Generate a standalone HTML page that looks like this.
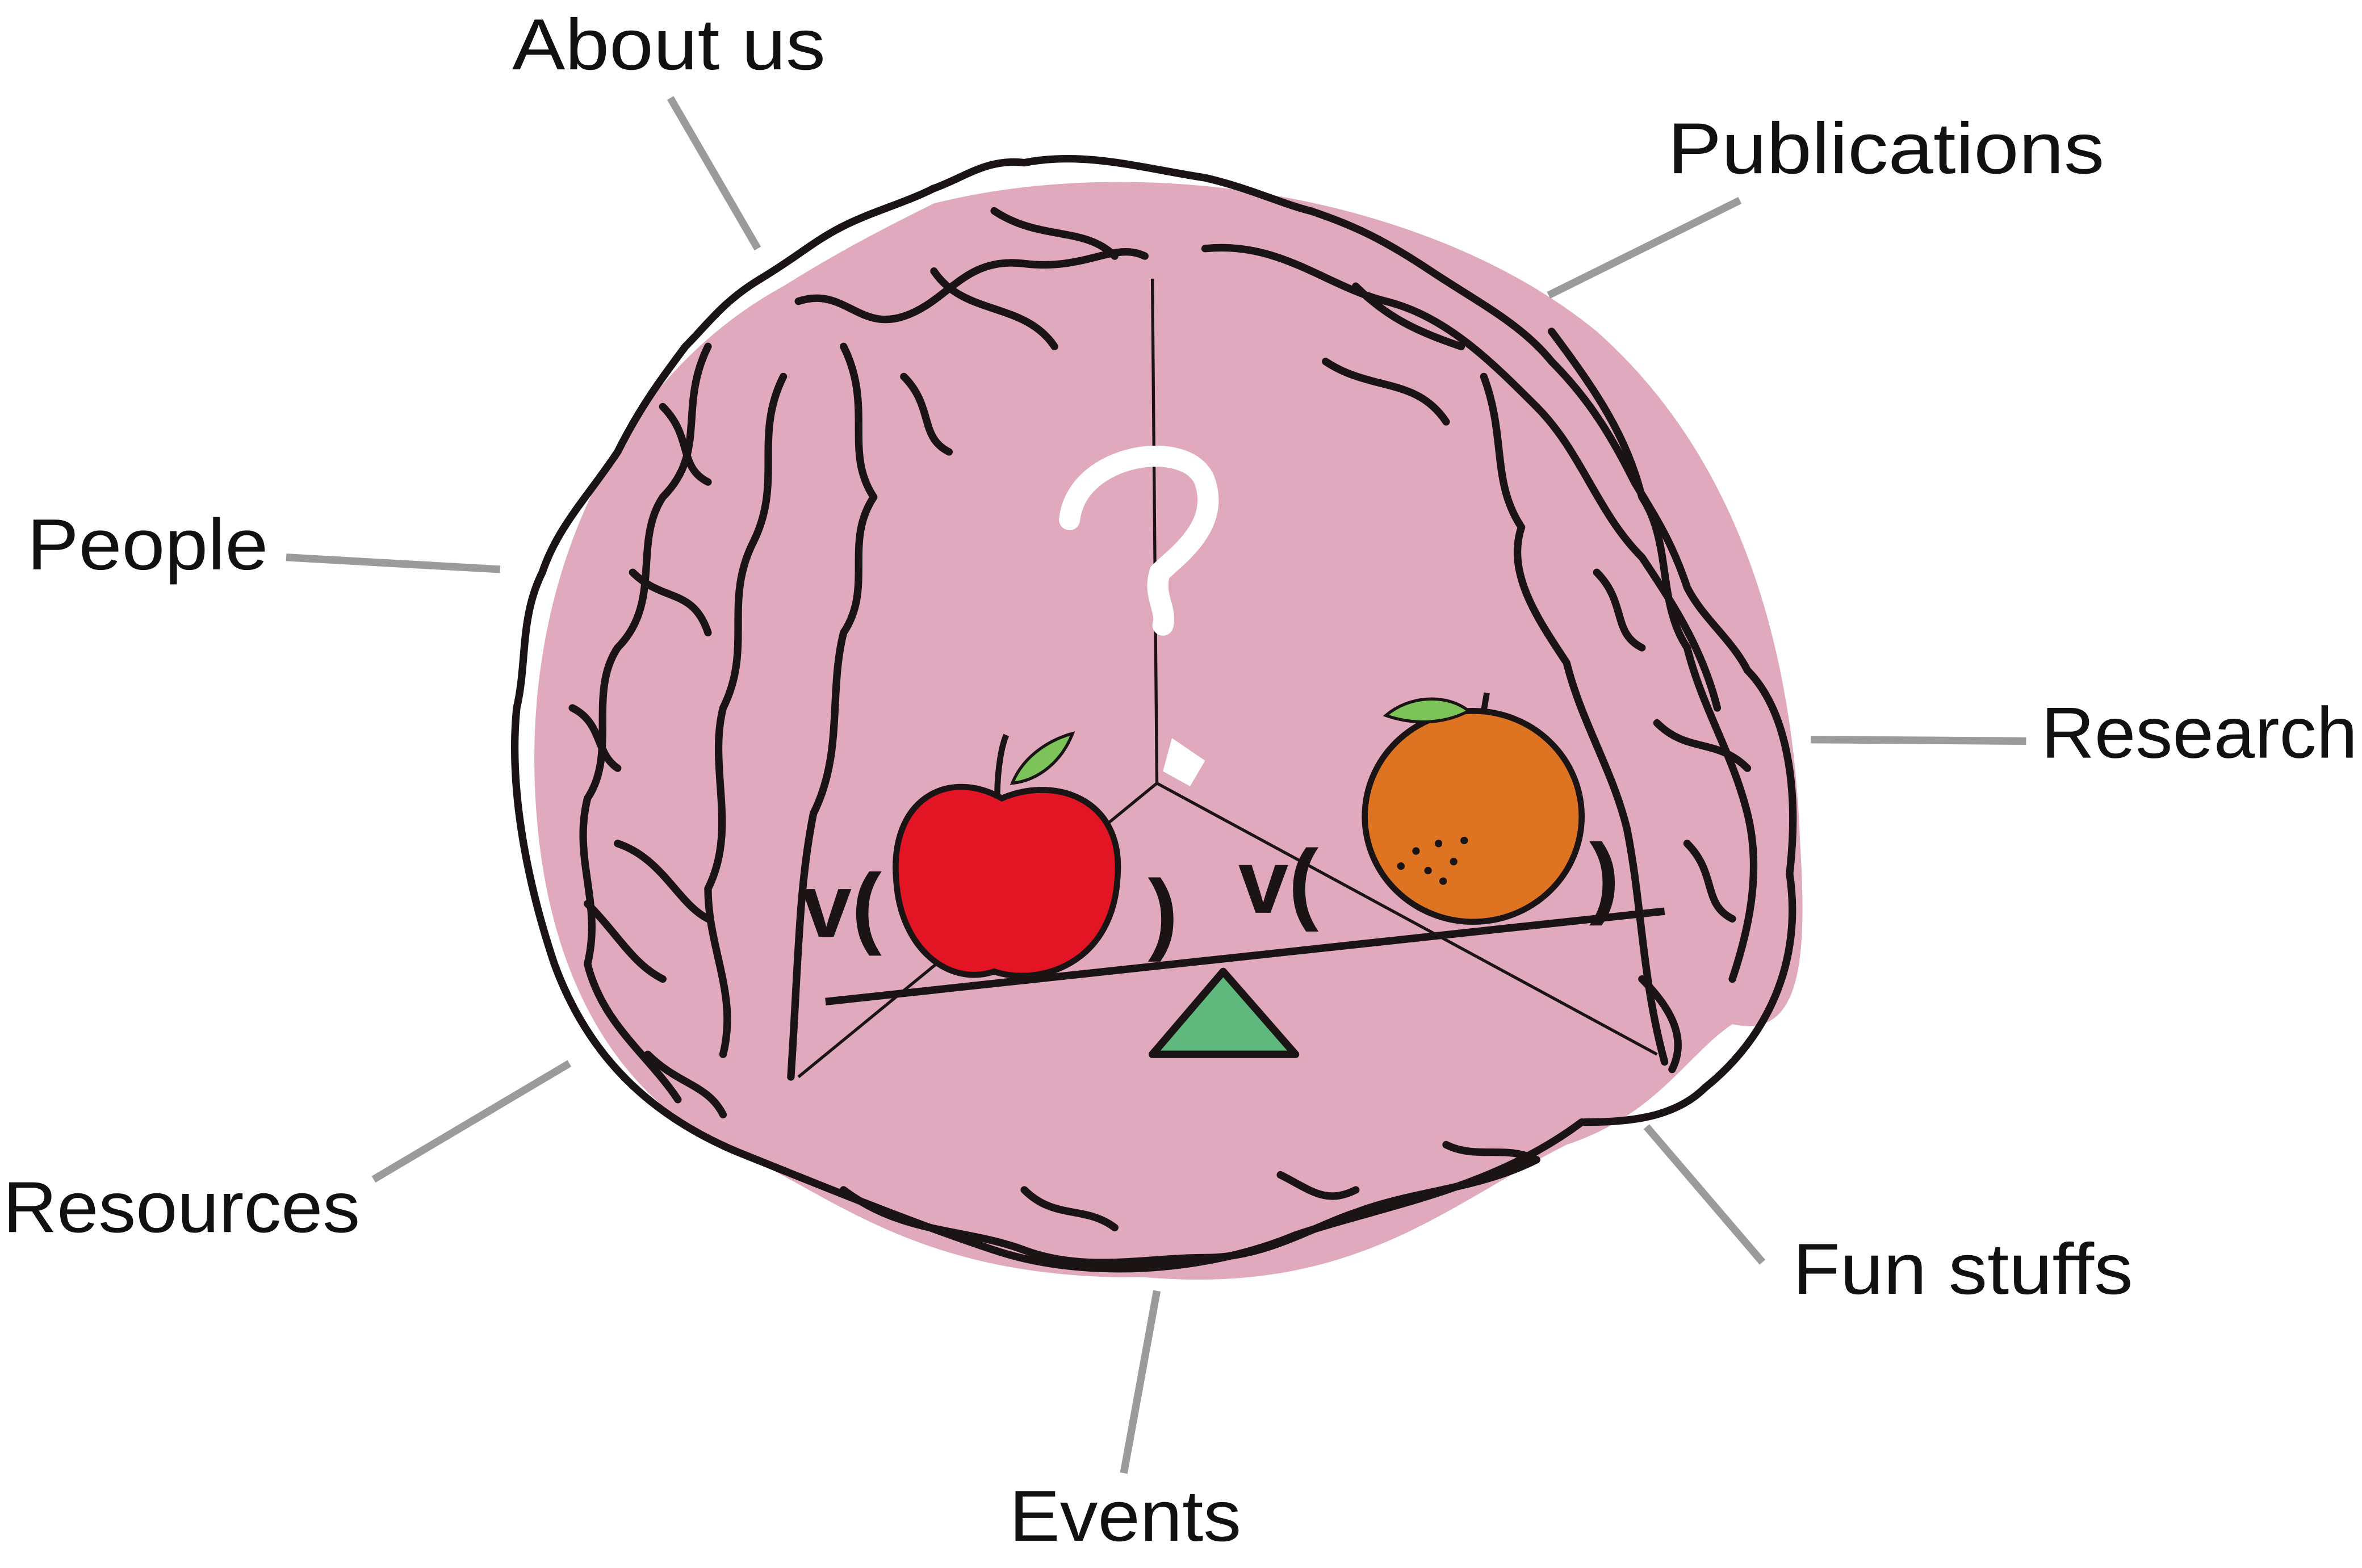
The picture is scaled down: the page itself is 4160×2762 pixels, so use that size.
<!DOCTYPE html>
<html><head><meta charset="utf-8"><style>
html,body{margin:0;padding:0;background:#fff;}
svg{display:block;}
text{font-family:"Liberation Sans",sans-serif;font-size:48px;fill:#111;}
</style></head><body>
<svg width="4160" height="2762" viewBox="0 0 1568 1041" xmlns="http://www.w3.org/2000/svg">
<rect width="1568" height="1041" fill="#fff"/>
<path d="M620,135 C760,100 950,130 1060,220 C1150,300 1190,420 1195,560 C1200,640 1195,690 1150,680 C1120,700 1100,740 1040,760 C960,800 900,860 760,848 C620,850 560,800 500,770 C420,740 360,660 355,520 C350,380 410,250 520,190 C560,165 590,150 620,135 Z" fill="#e1a9be"/>
<g fill="none" stroke="#1a1414" stroke-width="5" stroke-linecap="round" stroke-linejoin="round">
<path d="M505,185 C530,170 540,160 560,150 C580,140 600,135 620,125 C640,118 655,105 680,108 C720,100 760,112 800,118 C830,125 850,135 870,140 C900,150 920,160 950,180 C980,200 1010,215 1030,240 C1055,265 1070,290 1085,320 C1100,345 1110,360 1120,390 C1130,410 1150,425 1160,445 C1185,470 1195,520 1188,580 C1197,640 1172,690 1132,722 C1112,742 1082,745 1052,745"/>
<path d="M505,185 C480,200 470,215 455,230 C440,250 425,270 410,300 C390,330 370,350 360,380 C345,410 350,440 343,470 C338,520 348,580 368,640 C390,700 430,740 490,765 C540,785 600,810 660,830 C720,850 800,845 860,820 C920,800 990,790 1050,745"/>
<path d="M530,200 C560,190 570,220 600,210 C630,200 640,170 680,175 C720,180 740,160 760,170"/>
<path d="M620,180 C640,210 680,200 700,230"/>
<path d="M800,165 C850,160 880,190 920,200 C960,210 990,240 1020,270 C1050,300 1060,340 1090,370 C1110,400 1130,430 1140,470"/>
<path d="M880,240 C910,260 940,250 960,280"/>
<path d="M470,230 C450,270 470,300 440,330 C420,360 440,400 410,430 C390,460 410,500 390,530 C380,570 400,600 390,640 C400,680 430,700 450,730"/>
<path d="M520,250 C500,290 520,320 500,360 C480,400 500,430 480,470 C470,510 490,550 470,590 C470,630 490,660 480,700"/>
<path d="M560,230 C580,270 560,300 580,330 C560,360 580,390 560,420 C550,460 560,500 540,540 C530,590 530,640 525,715"/>
<path d="M985,250 C1000,290 990,320 1010,350 C1000,380 1020,410 1040,440 C1050,480 1070,510 1080,550 C1090,600 1090,650 1105,705"/>
<path d="M1030,220 C1060,260 1080,290 1090,330 C1110,360 1100,400 1120,430 C1130,470 1150,500 1160,540 C1170,580 1160,620 1150,650"/>
<path d="M560,790 C600,820 640,815 680,830 C720,845 760,835 800,835 C840,835 870,815 900,805 C940,790 980,790 1020,770"/>
<path d="M420,380 C440,400 460,390 470,420 M410,560 C440,570 450,600 470,610 M1100,480 C1120,500 1140,490 1160,510"/>
<path d="M600,250 C620,270 610,290 630,300 M440,270 C460,290 450,310 470,320 M380,470 C400,480 395,500 410,510 M390,600 C410,620 420,640 440,650 M430,700 C450,720 470,720 480,740"/>
<path d="M660,140 C690,160 720,150 740,170 M900,190 C920,210 940,220 970,230 M1060,380 C1080,400 1070,420 1090,430 M1120,560 C1140,580 1130,600 1150,610 M1090,650 C1110,670 1120,690 1110,710"/>
<path d="M680,790 C700,810 720,800 740,815 M850,780 C870,790 880,800 900,790 M960,760 C980,770 1000,760 1020,770"/>
</g>
<g fill="none" stroke="#1a1414" stroke-width="2">
<path d="M765,185 L768,520 L530,715"/>
<path d="M768,520 L1100,700"/>
</g>
<path d="M710,345 C715,300 790,290 800,320 C810,350 780,370 770,380 C765,395 775,405 772,415" fill="none" stroke="#fff" stroke-width="14" stroke-linecap="round"/>
<path d="M778,490 L800,505 L790,522 L772,512 Z" fill="#fff"/>
<text x="532" y="622" style="font-size:60px;font-weight:bold;fill:#1a1414">v(</text>
<text x="762" y="626" style="font-size:60px;font-weight:bold;fill:#1a1414">)</text>
<text x="822" y="606" style="font-size:60px;font-weight:bold;fill:#1a1414">v(</text>
<text x="1055" y="602" style="font-size:60px;font-weight:bold;fill:#1a1414">)</text>
<path d="M665,530 C630,510 590,530 595,585 C598,630 630,655 660,645 C690,655 740,640 742,580 C745,530 700,515 665,530 Z" fill="#e31424" stroke="#1a1414" stroke-width="4"/>
<path d="M662,530 C662,510 665,495 668,488" stroke="#1a1414" stroke-width="4" fill="none"/>
<path d="M672,520 C680,500 700,490 712,487 C705,505 690,518 672,520 Z" fill="#7cc35a" stroke="#1a1414" stroke-width="2"/>
<ellipse cx="978" cy="542" rx="72" ry="70" fill="#de7421" stroke="#1a1414" stroke-width="4"/>
<path d="M985,472 L987,460" stroke="#1a1414" stroke-width="4"/>
<path d="M975,472 C960,460 935,462 920,475 C940,482 960,480 975,472 Z" fill="#7cc35a" stroke="#1a1414" stroke-width="2"/>
<g fill="#1a1414"><circle cx="940" cy="565" r="2.5"/><circle cx="955" cy="560" r="2.5"/><circle cx="965" cy="572" r="2.5"/><circle cx="948" cy="578" r="2.5"/><circle cx="930" cy="575" r="2.5"/><circle cx="958" cy="585" r="2.5"/><circle cx="972" cy="558" r="2.5"/></g>
<line x1="548" y1="665" x2="1105" y2="605" stroke="#1a1414" stroke-width="5"/>
<polygon points="765,700 812,645 860,700" fill="#5fb87c" stroke="#1a1414" stroke-width="5" stroke-linejoin="round"/>
<g stroke="#9b9b9b" stroke-width="5">
<line x1="445" y1="65" x2="503" y2="165"/>
<line x1="1155" y1="133" x2="1028" y2="196"/>
<line x1="190" y1="370" x2="332" y2="378"/>
<line x1="1202" y1="491" x2="1345" y2="492"/>
<line x1="248" y1="783" x2="378" y2="706"/>
<line x1="1093" y1="748" x2="1170" y2="838"/>
<line x1="768" y1="857" x2="746" y2="978"/>
</g>
<text x="340" y="46" textLength="208" lengthAdjust="spacingAndGlyphs">About us</text>
<text x="1107" y="115" textLength="290" lengthAdjust="spacingAndGlyphs">Publications</text>
<text x="18" y="378" textLength="160" lengthAdjust="spacingAndGlyphs">People</text>
<text x="1355" y="503" textLength="210" lengthAdjust="spacingAndGlyphs">Research</text>
<text x="2" y="818" textLength="237" lengthAdjust="spacingAndGlyphs">Resources</text>
<text x="1190" y="859" textLength="226" lengthAdjust="spacingAndGlyphs">Fun stuffs</text>
<text x="670" y="1023" textLength="154" lengthAdjust="spacingAndGlyphs">Events</text>
</svg>
</body></html>
